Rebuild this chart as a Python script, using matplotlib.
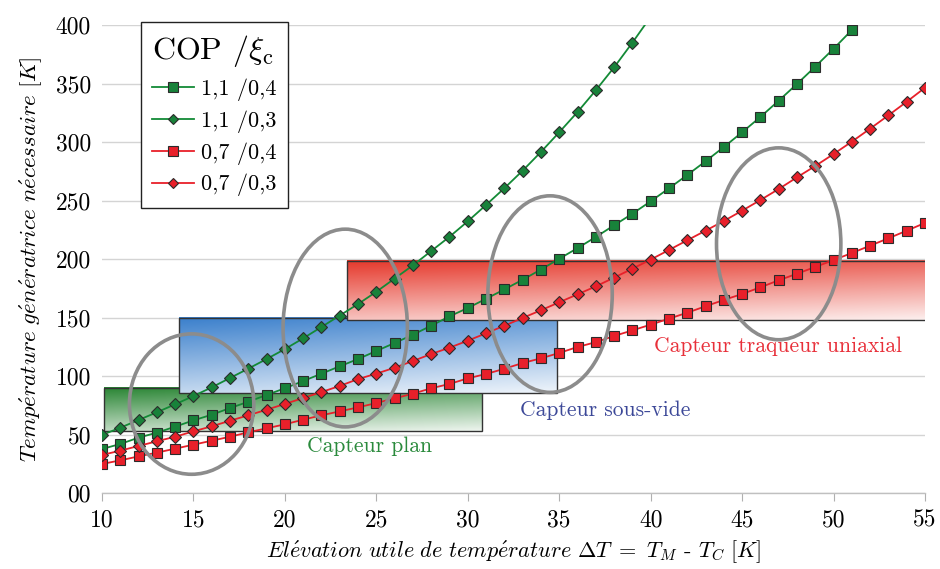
import numpy as np
import matplotlib
matplotlib.use("Agg")
import matplotlib.pyplot as plt
from matplotlib.patches import Ellipse, Rectangle
from matplotlib.lines import Line2D

plt.rcParams['font.family'] = ['cmr10', 'DejaVu Serif']
plt.rcParams['mathtext.fontset'] = 'cm'
plt.rcParams['axes.formatter.use_mathtext'] = True

# -------------------------------
# Data
# -------------------------------
x_g04 = list(range(10, 53))
y_g04 = [37.6, 41.9, 47.3, 51.6, 56.7, 62.1, 66.9, 72.6, 78.0, 83.8,
         89.5, 95.7, 102.0, 108.3, 114.5, 121.4, 128.2, 135.3, 143.0, 151.0,
         158.1, 166.0, 174.0, 182.3, 191.0, 200.2, 209.3, 218.8, 228.8, 238.7,
         249.3, 260.4, 271.8, 283.5, 295.7, 308.3, 321.4, 335.3, 349.6, 364.4,
         379.7, 395.7, 412.0]

x_g03 = list(range(10, 41))
y_g03 = [49.6, 55.8, 62.4, 69.0, 75.8, 82.9, 90.3, 98.3, 106.3, 114.5,
         123.0, 132.2, 141.9, 151.7, 161.5, 172.0, 183.3, 194.6, 206.8, 219.0,
         232.2, 246.2, 260.5, 275.5, 291.5, 308.3, 325.6, 344.2, 363.8, 384.9,
         407.0]

x_r04 = list(range(10, 56))
y_r04 = [24.8, 27.9, 31.3, 34.5, 37.9, 41.3, 44.7, 48.1, 51.9, 55.3,
         58.7, 62.7, 66.4, 69.8, 73.2, 76.9, 80.9, 84.9, 89.5, 93.2,
         98.0, 101.7, 106.2, 111.1, 115.1, 119.7, 124.8, 128.9, 134.2, 139.0,
         143.9, 149.0, 154.1, 159.6, 165.0, 170.1, 175.8, 181.8, 187.4, 193.2,
         199.1, 205.1, 211.4, 217.7, 224.2, 230.8]

x_r03 = list(range(10, 56))
y_r03 = [32.5, 36.2, 40.2, 44.2, 48.1, 52.7, 57.0, 61.8, 66.4, 71.2,
         76.1, 81.2, 86.3, 91.5, 97.4, 102.0, 107.1, 112.8, 118.8, 124.2,
         130.2, 136.5, 143.0, 149.6, 156.2, 163.0, 169.8, 176.6, 184.1, 191.7,
         199.5, 207.7, 216.0, 224.2, 232.5, 241.3, 250.4, 259.8, 269.8, 279.5,
         289.7, 300.3, 311.4, 322.8, 334.4, 346.4]

series_labels = ['1,1 /0,4', '1,1 /0,3', '0,7 /0,4', '0,7 /0,3']

# collector ranges: (x0, x1, y0, y1)
box_plan = (10.1, 30.8, 53, 90)
box_vide = (14.2, 34.9, 85.5, 150)
box_track = (23.4, 55.1, 148, 198.5)
box_names = ['Capteur plan', 'Capteur sous-vide', 'Capteur traqueur uniaxial']

# highlight ellipses: (cx, cy, w, h)
ellipses = [(14.9, 76, 6.8, 120), (23.3, 141, 6.8, 169),
            (34.5, 170, 6.8, 168), (47.0, 213, 6.8, 164)]

x_ticks = [10, 15, 20, 25, 30, 35, 40, 45, 50, 55]
y_ticks = [0, 50, 100, 150, 200, 250, 300, 350, 400]
y_ticklabels = ['00', '50', '100', '150', '200', '250', '300', '350', '400']

GREEN = '#138a36'
GREEN_FACE = '#18823a'
RED = '#e8202a'


def gradient_box(ax, box, top_rgb, zorder=1):
    x0, x1, y0, y1 = box
    ny, nx = 64, 64
    v = np.linspace(0, 1, ny)[:, None]      # 0 at top
    h = np.linspace(0, 1, nx)[None, :]
    t = np.clip(0.7 * v + 0.22 * h, 0, 1)
    top = np.array(top_rgb)
    bottom = np.array([1.0, 1.0, 1.0])
    img = top[None, None, :] * (1 - t[..., None]) + bottom[None, None, :] * t[..., None]
    ax.imshow(img, extent=(x0, x1, y0, y1), origin='upper', aspect='auto',
              zorder=zorder, interpolation='bilinear')
    ax.add_patch(Rectangle((x0, y0), x1 - x0, y1 - y0, fill=False,
                           edgecolor='#333333', lw=1.0, zorder=zorder + 0.1))


fig = plt.figure(figsize=(9.4, 5.69), dpi=100)
ax = fig.add_axes([102 / 940, 76 / 569, 823 / 940, 468 / 569])

# boxes
gradient_box(ax, box_plan, (0.16, 0.52, 0.20), zorder=1.0)
gradient_box(ax, box_vide, (0.23, 0.50, 0.80), zorder=1.2)
gradient_box(ax, box_track, (0.90, 0.22, 0.17), zorder=1.4)

# curves
mk = dict(markeredgecolor='#2b2b2b', markeredgewidth=0.8)
ax.plot(x_g04, y_g04, '-s', color=GREEN, lw=1.3, ms=7.5, mfc=GREEN_FACE, zorder=3, **mk)
ax.plot(x_g03, y_g03, '-D', color=GREEN, lw=1.3, ms=5.8, mfc=GREEN_FACE, zorder=3, **mk)
ax.plot(x_r04, y_r04, '-s', color=RED, lw=1.3, ms=7.5, mfc=RED, zorder=3, **mk)
ax.plot(x_r03, y_r03, '-D', color=RED, lw=1.3, ms=5.8, mfc=RED, zorder=3, **mk)

for cx, cy, w, h in ellipses:
    ax.add_patch(Ellipse((cx, cy), w, h, fill=False, edgecolor='#8c8c8c',
                         lw=2.6, zorder=4))

# labels of collector types
ax.text(24.65, 40, box_names[0], color='#2a8a3c', fontsize=15.5, ha='center', va='center')
ax.text(37.5, 71, box_names[1], color='#3c4898', fontsize=15.5, ha='center', va='center')
ax.text(46.95, 125.6, box_names[2], color='#e8303a', fontsize=15.5, ha='center', va='center')

ax.set_xlim(10, 55)
ax.set_ylim(0, 400)
ax.set_xticks(x_ticks)
ax.set_xticklabels([str(v) for v in x_ticks])
ax.set_yticks(y_ticks)
ax.set_yticklabels(y_ticklabels)
ax.tick_params(axis='x', direction='out', length=6, color='#b0b0b0', labelsize=17, pad=6)
ax.tick_params(axis='y', length=0, labelsize=17, pad=8)
ax.grid(axis='y', color='#d4d4d4', lw=1.0, zorder=0)
ax.set_axisbelow(True)
for s in ['top', 'right', 'left']:
    ax.spines[s].set_visible(False)
ax.spines['bottom'].set_color('#c0c0c0')
ax.spines['bottom'].set_linewidth(1.0)

ax.set_xlabel(r'$\mathit{El\acute{e}vation\ utile\ de\ temp\acute{e}rature}\ \Delta T\ =\ T_{M}$ - $T_{C}\ [K]$',
              fontsize=16, labelpad=5)
ax.set_ylabel(r'$\mathit{Temp\acute{e}rature\ g\acute{e}n\acute{e}ratrice\ n\acute{e}cessaire}\ [K]$',
              fontsize=16.5, labelpad=8)

# legend
handles = [
    Line2D([], [], color=GREEN, marker='s', ms=6.5, mfc=GREEN_FACE, lw=1.3, **mk),
    Line2D([], [], color=GREEN, marker='D', ms=5, mfc=GREEN_FACE, lw=1.3, **mk),
    Line2D([], [], color=RED, marker='s', ms=6.5, mfc=RED, lw=1.3, **mk),
    Line2D([], [], color=RED, marker='D', ms=5, mfc=RED, lw=1.3, **mk),
]
leg = fig.legend(handles, series_labels, loc='upper left',
                 bbox_to_anchor=(141 / 940, 1 - 22 / 569), borderaxespad=0,
                 title=r'COP /$\xi_{\mathrm{c}}$', fontsize=16,
                 title_fontsize=23, fancybox=False, framealpha=1,
                 edgecolor='#222222', handlelength=1.9, handletextpad=0.3,
                 labelspacing=0.42, borderpad=0.5)
leg.get_frame().set_linewidth(1.0)
leg._legend_box.align = 'left'

fig.savefig('out.png', dpi=100)
